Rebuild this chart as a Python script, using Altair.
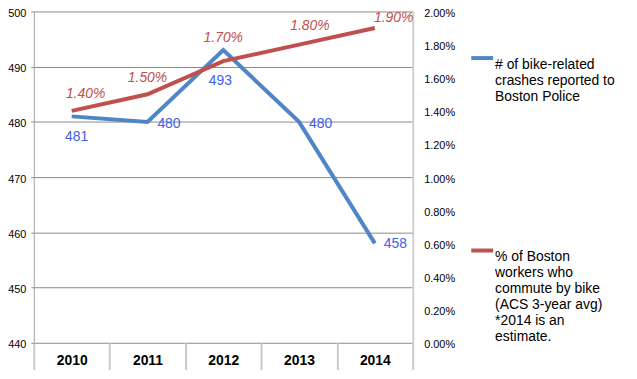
import altair as alt
import pandas as pd

years = ["2010", "2011", "2012", "2013", "2014"]
crashes = [481, 480, 493, 480, 458]
bike_share = [0.014, 0.015, 0.017, 0.018, 0.019]
crash_labels = ["481", "480", "493", "480", "458"]
share_labels = ["1.40%", "1.50%", "1.70%", "1.80%", "1.90%"]
left_ticks = [440, 450, 460, 470, 480, 490, 500]
right_ticks = [0.0, 0.002, 0.004, 0.006, 0.008, 0.010, 0.012, 0.014, 0.016, 0.018, 0.020]
blue_name = "# of bike-related|crashes reported to|Boston Police"
red_name = "% of Boston|workers who|commute by bike|(ACS 3-year avg)|*2014 is an|estimate."

BLUE = "#4f86c6"
RED = "#c0504d"
BLUE_TXT = "#3f5fe8"
FONT = "Liberation Sans"

df = pd.DataFrame({
    "year": years,
    "crashes": crashes,
    "share": bike_share,
    "crash_label": crash_labels,
    "share_label": share_labels,
    "s1": [blue_name] * 5,
    "s2": [red_name] * 5,
})

base = alt.Chart(df)

x = alt.X(
    "year:N",
    scale=alt.Scale(type="band", paddingInner=0, paddingOuter=0),
    axis=alt.Axis(
        title=None, labelAngle=0, labelFontWeight="bold", labelFontSize=14,
        labelFont=FONT, labelColor="black", tickBand="extent", tickSize=27,
        tickColor="#c8c8c8", tickWidth=2, domain=False, labelPadding=-9,
        labelBaseline="middle", grid=False,
    ),
)

y_left = alt.Y(
    "crashes:Q",
    scale=alt.Scale(domain=[440, 500], zero=False, nice=False),
    axis=alt.Axis(
        values=left_ticks, title=None, grid=True, gridColor="#8a8a8a", gridWidth=1,
        domainColor="#a0a0a0", domainWidth=1, tickColor="#8a8a8a", tickSize=3,
        labelFontSize=11, labelFont=FONT, labelColor="black", labelPadding=5,
        labelOffset=2,
    ),
)

y_right = alt.Y(
    "share:Q",
    scale=alt.Scale(domain=[0, 0.02], nice=False),
    axis=alt.Axis(
        orient="right", values=right_ticks, format=".2%", title=None, grid=False,
        domainColor="#d0d0d0", domainWidth=2, ticks=False, labelPadding=11,
        labelFontSize=11, labelFont=FONT, labelColor="black", labelOffset=2,
    ),
)


def legend(ly):
    return alt.Legend(
        title=None, orient="none", legendX=439, legendY=ly, symbolType="stroke",
        symbolStrokeWidth=4, symbolSize=484,
        labelExpr="split(datum.label, '|')",
        labelFontSize=14, labelFont=FONT, labelLimit=400, labelBaseline="top",
        labelColor="black", padding=0, offset=0, labelOffset=0,
    )


blue_line = base.mark_line(strokeWidth=4).encode(
    x=x, y=y_left,
    color=alt.Color("s1:N", scale=alt.Scale(domain=[blue_name], range=[BLUE]), legend=legend(34)),
)

blue_offsets = {"2010": ("center", 5, 21), "2011": ("left", 10, 2), "2012": ("center", -3, 31),
                "2013": ("left", 10, 2), "2014": ("left", 9, 1)}
blue_texts = []
for yr, (al, dx, dy) in blue_offsets.items():
    blue_texts.append(
        base.transform_filter(alt.datum.year == yr)
        .mark_text(align=al, baseline="middle", dx=dx, dy=dy, fontSize=14, font=FONT, color=BLUE_TXT)
        .encode(x=x, y=y_left, text="crash_label:N")
    )

red_line = base.mark_line(strokeWidth=4).encode(
    x=x, y=y_right,
    color=alt.Color("s2:N", scale=alt.Scale(domain=[red_name], range=[RED]), legend=legend(228)),
)

red_offsets = {"2010": (14, -17), "2011": (0, -16), "2012": (0, -23), "2013": (11, -19), "2014": (19, -10)}
red_texts = []
for yr, (dx, dy) in red_offsets.items():
    red_texts.append(
        base.transform_filter(alt.datum.year == yr)
        .mark_text(align="center", baseline="middle", dx=dx, dy=dy, fontSize=14, font=FONT,
                   fontStyle="italic", color=RED)
        .encode(x=x, y=y_right, text="share_label:N")
    )

left_layer = alt.layer(blue_line, *blue_texts)
right_layer = alt.layer(red_line, *red_texts)

chart = (
    alt.layer(left_layer, right_layer)
    .resolve_scale(y="independent", color="independent")
    .properties(
        width=382, height=334,
        autosize=alt.AutoSizeParams(type="none"),
        padding={"left": 26, "top": 2, "right": 218, "bottom": 30},
        background="white",
    )
    .configure_view(stroke=None)
)

chart.save("out.html", embed_options={"renderer": "svg", "actions": False})
